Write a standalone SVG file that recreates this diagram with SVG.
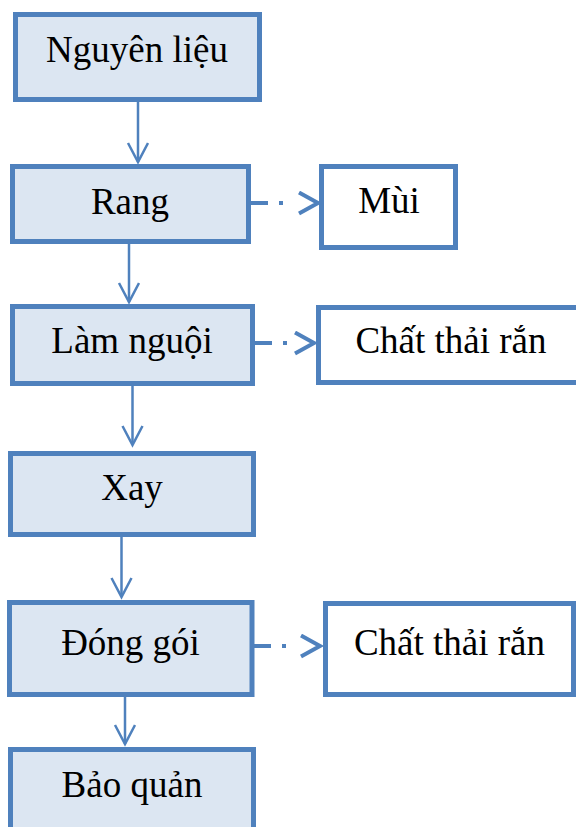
<svg xmlns="http://www.w3.org/2000/svg" width="576" height="827" viewBox="0 0 576 827">
  <style>
    .step rect { fill: #DCE6F2; stroke: #4F81BD; stroke-width: 5; }
    .out rect { fill: #FFFFFF; stroke: #4F81BD; stroke-width: 5; }
    text { font-family: 'Liberation Serif', Tinos, 'Times New Roman', 'Noto Serif', 'DejaVu Serif', serif; font-size: 37px; fill: #000; text-anchor: middle; }
    .flow { fill: none; stroke: #4F81BD; stroke-width: 2.5; }
    .side { fill: none; stroke: #4F81BD; stroke-width: 4; stroke-dasharray: 17 11 4 200; }
  </style>
  <defs>
    <marker id="head" markerUnits="userSpaceOnUse" markerWidth="30" markerHeight="30" refX="20" refY="11" orient="auto">
      <path d="M1,1 L20,11 L1,21" fill="none" stroke="#4F81BD" stroke-width="2.5"/>
    </marker>
    <marker id="headSide" markerUnits="userSpaceOnUse" markerWidth="30" markerHeight="30" refX="21" refY="12" orient="auto">
      <path d="M2,1.5 L21,12 L2,22.5" fill="none" stroke="#4F81BD" stroke-width="4"/>
    </marker>
  </defs>

  <g id="connectors">
    <line class="flow" x1="138" y1="102" x2="138" y2="162" marker-end="url(#head)"/>
    <line class="flow" x1="129" y1="244" x2="129" y2="302" marker-end="url(#head)"/>
    <line class="flow" x1="132.5" y1="386" x2="132.5" y2="445" marker-end="url(#head)"/>
    <line class="flow" x1="121.5" y1="537" x2="121.5" y2="597" marker-end="url(#head)"/>
    <line class="flow" x1="125" y1="697" x2="125" y2="744" marker-end="url(#head)"/>
    <line class="side" x1="251" y1="203" x2="318" y2="203" marker-end="url(#headSide)"/>
    <line class="side" x1="255" y1="343" x2="314" y2="343" marker-end="url(#headSide)"/>
    <line class="side" x1="254" y1="646" x2="320" y2="646" marker-end="url(#headSide)"/>
  </g>

  <g id="nguyen-lieu" class="step">
    <rect x="15.5" y="14.5" width="244" height="85"/>
    <text x="137" y="62" font-family="Liberation Serif, serif">Nguyên liệu</text>
  </g>
  <g id="rang" class="step">
    <rect x="12.5" y="166.5" width="236" height="75"/>
    <text x="130" y="214">Rang</text>
  </g>
  <g id="mui" class="out">
    <rect x="321.5" y="166.5" width="134" height="81"/>
    <text x="389" y="213">Mùi</text>
  </g>
  <g id="lam-nguoi" class="step">
    <rect x="12.5" y="306.5" width="240" height="77"/>
    <text x="132" y="353">Làm nguội</text>
  </g>
  <g id="chat-thai-ran-1" class="out">
    <rect x="318.5" y="307.5" width="268" height="75"/>
    <text x="451" y="353">Chất thải rắn</text>
  </g>
  <g id="xay" class="step">
    <rect x="10.5" y="453.5" width="243" height="81"/>
    <text x="132" y="500">Xay</text>
  </g>
  <g id="dong-goi" class="step">
    <rect x="9.5" y="602.5" width="242.5" height="92"/>
    <text x="130.5" y="655">Đóng gói</text>
  </g>
  <g id="chat-thai-ran-2" class="out">
    <rect x="325.5" y="603.5" width="248" height="91"/>
    <text x="449.5" y="655">Chất thải rắn</text>
  </g>
  <g id="bao-quan" class="step">
    <rect x="10.5" y="749.5" width="243" height="95"/>
    <text x="132" y="797">Bảo quản</text>
  </g>
</svg>
